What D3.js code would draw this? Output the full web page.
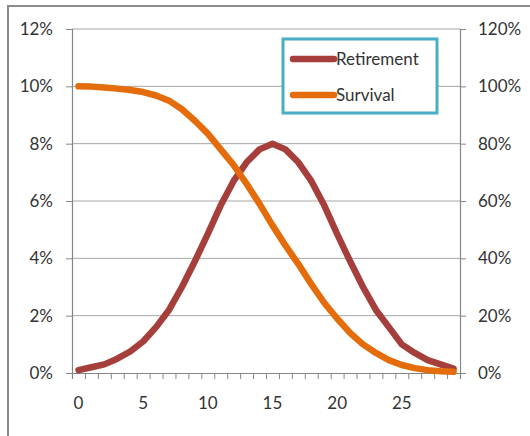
<!DOCTYPE html>
<html>
<head>
<meta charset="utf-8">
<script src="https://cdn.jsdelivr.net/npm/d3@7"></script>
<style>
  body { margin: 0; background: #fff; }
  text { font-family: Lato, "Open Sans", sans-serif; fill: #333; }
</style>
</head>
<body>
<svg width="530" height="436"></svg>
<script>
// Data: years 0..29, retirement probability (left axis, %) and survival (right axis, %)
const years = d3.range(0, 30);
const retirement = [0.1, 0.2, 0.3, 0.5, 0.75, 1.1, 1.6, 2.2, 3.0, 3.9,
                    4.85, 5.85, 6.7, 7.35, 7.8, 8.0, 7.8, 7.35, 6.7, 5.85,
                    4.85, 3.9, 3.0, 2.2, 1.6, 1.0, 0.7, 0.45, 0.3, 0.15];
const survival = [100, 99.9, 99.6, 99.2, 98.7, 98, 96.8, 95, 92, 88,
                  83.5, 78, 72.5, 66, 59, 51.5, 44.5, 38, 31, 24.5,
                  19, 14, 10, 7, 4.5, 2.8, 1.7, 1.0, 0.6, 0.4];
const leftTicks = [0, 2, 4, 6, 8, 10, 12];
const rightTicks = [0, 20, 40, 60, 80, 100, 120];
const xLabels = [0, 5, 10, 15, 20, 25];
const seriesNames = ["Retirement", "Survival"];
const colors = ["#A63F3C", "#E46C0A"];

const svg = d3.select("svg");
const plot = { left: 72, right: 460, top: 29, bottom: 373 };

// Chart frame (gray border, top and left visible)
svg.append("path")
   .attr("d", "M8,436 L8,6 L530,6")
   .attr("fill", "none")
   .attr("stroke", "#8c8c8c")
   .attr("stroke-width", 2);

// Scales
const xBand = d3.scaleBand().domain(years).range([plot.left, plot.right]);
const xLin = d3.scaleLinear().domain([0, 30]).range([plot.left, plot.right]);
const yLeft = d3.scaleLinear().domain([0, 12]).range([plot.bottom, plot.top]);
const yRight = d3.scaleLinear().domain([0, 120]).range([plot.bottom, plot.top]);
const xc = d => xBand(d) + xBand.bandwidth() / 2;

// Gridlines
svg.append("g")
   .selectAll("line")
   .data(leftTicks.filter(d => d > 0))
   .join("line")
   .attr("x1", plot.left).attr("x2", plot.right)
   .attr("y1", d => yLeft(d)).attr("y2", d => yLeft(d))
   .attr("stroke", "#a6a6a6")
   .attr("stroke-width", 1);

// Left axis
const gl = svg.append("g")
   .attr("transform", `translate(${plot.left},0)`)
   .call(d3.axisLeft(yLeft).tickValues(leftTicks).tickSize(6).tickPadding(13)
          .tickFormat(d => d + "%"));

// Right axis
const gr = svg.append("g")
   .attr("transform", `translate(${plot.right},0)`)
   .call(d3.axisRight(yRight).tickValues(rightTicks).tickSize(6).tickPadding(12)
          .tickFormat(d => d + "%"));

// Bottom axis: tick marks at category boundaries
const gb = svg.append("g")
   .attr("transform", `translate(0,${plot.bottom})`)
   .call(d3.axisBottom(xLin).tickValues(d3.range(0, 31)).tickSize(6).tickFormat(""));

// Bottom labels at category centres
const gbl = svg.append("g")
   .attr("transform", `translate(0,${plot.bottom})`)
   .call(d3.axisBottom(xBand).tickValues(xLabels).tickSize(0).tickPadding(24));
gbl.select(".domain").remove();

[gl, gr, gb].forEach(g => {
  g.selectAll("path, line").attr("stroke", "#868686");
  g.select(".domain").attr("stroke-width", 1.2);
});
[gl, gr, gbl].forEach(g => {
  g.selectAll("text")
   .style("font-family", "Lato, sans-serif")
   .style("font-size", "17px")
   .attr("fill", "#333");
});

// Lines
const line = (scale) => d3.line().x((d, i) => xc(years[i])).y(d => scale(d));

svg.append("path")
   .datum(retirement)
   .attr("d", line(yLeft))
   .attr("fill", "none")
   .attr("stroke", colors[0])
   .attr("stroke-width", 6.5)
   .attr("stroke-linejoin", "round")
   .attr("stroke-linecap", "round");

svg.append("path")
   .datum(survival)
   .attr("d", line(yRight))
   .attr("fill", "none")
   .attr("stroke", colors[1])
   .attr("stroke-width", 6.5)
   .attr("stroke-linejoin", "round")
   .attr("stroke-linecap", "round");

// Legend
const legend = svg.append("g").attr("transform", "translate(283,39)");
legend.append("rect")
   .attr("width", 154).attr("height", 74)
   .attr("fill", "#fff")
   .attr("stroke", "#4BACC6")
   .attr("stroke-width", 3);

seriesNames.forEach((name, i) => {
  const y = 20 + i * 36;
  legend.append("line")
     .attr("x1", 10).attr("x2", 51)
     .attr("y1", y).attr("y2", y)
     .attr("stroke", colors[i])
     .attr("stroke-width", 6.5)
     .attr("stroke-linecap", "round");
  legend.append("text")
     .attr("x", 53).attr("y", y)
     .attr("dy", "0.35em")
     .style("font-size", "17px")
     .text(name);
});
</script>
</body>
</html>
